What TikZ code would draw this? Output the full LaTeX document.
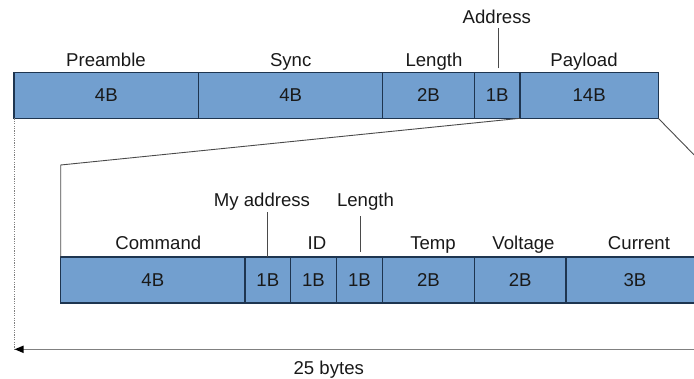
\documentclass[tikz,border=0pt]{standalone}
\usepackage{fontspec}
\setmainfont{Liberation Sans}
\usetikzlibrary{arrows.meta}
\definecolor{cellfill}{HTML}{729FCF}
\definecolor{cellline}{HTML}{1E3550}
\definecolor{leader}{HTML}{4A4A4A}
\definecolor{dimline}{HTML}{808080}
\begin{document}
\begin{tikzpicture}[x=1pt,y=-1pt,
  every node/.style={font=\fontsize{18.6}{22}\selectfont, text=black!90},
  cell/.style={draw=cellline, fill=cellfill, line width=1.1pt, inner sep=0pt,
    outer sep=0pt, anchor=north west, minimum height=45.6pt},
  lowcell/.style={cell, minimum height=46pt},
  fieldname/.style={anchor=base, inner sep=0pt},
  tick/.style={draw=leader, line width=0.9pt},
  zoomline/.style={draw=leader, line width=0.9pt, line join=miter}]
\useasboundingbox (0,0) rectangle (694,378);
\clip (0,0) rectangle (694,378);

% ---- frame ----
\node[cell, minimum width=184.7pt] (cPre)  at (14,72.7)    {4B};
\node[cell, minimum width=184pt]   (cSync) at (198.7,72.7) {4B};
\node[cell, minimum width=91.6pt]  (cLen)  at (382.7,72.7) {2B};
\node[cell, minimum width=45.7pt]  (cAddr) at (474.3,72.7) {1B};
\node[cell, minimum width=138.3pt] (cPay)  at (520,72.7)   {14B};

\node[fieldname] (lPre)  at (106,66)    {Preamble};
\node[fieldname] (lSync) at (290.7,66)  {Sync};
\node[fieldname] (lLen)  at (434,66)    {Length};
\node[fieldname] (lPay)  at (584,66)    {Payload};
\node[fieldname] (lAddr) at (496.8,23.5){Address};
\draw[tick] ([xshift=1.5pt,yshift=4.4pt]cAddr.north) -- ([xshift=1.5pt,yshift=44.4pt]cAddr.north);

% ---- payload detail ----
\node[lowcell, minimum width=184.3pt] (cCmd)  at (60.7,257)  {4B};
\node[lowcell, minimum width=45.7pt]  (cMy)   at (245,257)   {1B};
\node[lowcell, minimum width=45.6pt]  (cId)   at (290.7,257) {1B};
\node[lowcell, minimum width=46.4pt]  (cPLen) at (336.3,257) {1B};
\node[lowcell, minimum width=91.6pt]  (cTemp) at (382.7,257) {2B};
\node[lowcell, minimum width=91.7pt]  (cVolt) at (474.3,257) {2B};
\node[lowcell, minimum width=138pt]   (cCur)  at (566,257)   {3B};

\node[fieldname] (lCmd)  at (158.3,249.5) {Command};
\node[fieldname] (lId)   at (317,249.5)   {ID};
\node[fieldname] (lTemp) at (433,249.5)   {Temp};
\node[fieldname] (lVolt) at (523.5,249.5) {Voltage};
\node[fieldname] (lCur)  at (639,249.5)   {Current};
\node[fieldname] (lMy)   at (262,206)     {My address};
\node[fieldname] (lPLen) at (365.5,206)   {Length};
\draw[tick] (cMy.north) -- ([yshift=45pt]cMy.north);
\draw[tick] ([xshift=0.5pt,yshift=5.3pt]cPLen.north) -- ([xshift=0.5pt,yshift=41.3pt]cPLen.north);

% ---- expansion lines from the payload ----
\coordinate (zl) at (60.7,165);
\coordinate (zr) at (704,165);
\draw[zoomline] (cCmd.north west) -- (zl) -- (cPay.south west);
\draw[zoomline] (cPay.south east) -- (zr) -- (cCur.north east);

% ---- total length ----
\coordinate (dimL) at (14.5,349.3);
\coordinate (dimR) at (710,349.3);
\draw[dimline, line width=0.8pt, dash pattern=on 1.2pt off 1.2pt] ([xshift=0.5pt]cPre.south west) -- (dimL);
\draw[dimline, line width=1.6pt, -{Triangle[length=9pt,width=7pt,color=black]}] (dimR) -- (dimL);
\node[fieldname] (lTotal) at (328.8,374.3) {25 bytes};
\end{tikzpicture}
\end{document}
